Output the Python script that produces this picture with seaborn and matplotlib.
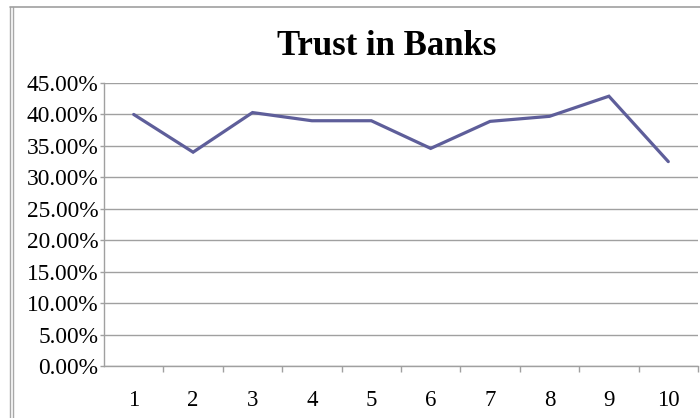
import matplotlib
matplotlib.use("Agg")
import matplotlib.pyplot as plt
from matplotlib.lines import Line2D
from matplotlib.ticker import FixedLocator, PercentFormatter
import seaborn as sns
import pandas as pd

# Survey periods and share of respondents who trust banks
periods = [1, 2, 3, 4, 5, 6, 7, 8, 9, 10]
trust = [0.400, 0.340, 0.403, 0.390, 0.390, 0.346, 0.389, 0.397, 0.429, 0.325]
y_ticks = [0.00, 0.05, 0.10, 0.15, 0.20, 0.25, 0.30, 0.35, 0.40, 0.45]
title = "Trust in Banks"

sns.set_style("white")
plt.rcParams["font.family"] = ["Liberation Serif", "DejaVu Serif"]
plt.rcParams["text.color"] = "black"

W, H = 700, 418
fig = plt.figure(figsize=(W / 100, H / 100), dpi=100)
fig.patch.set_facecolor("white")

left, right, top, bottom = 104, 698, 83, 366
ax = fig.add_axes([left / W, 1 - bottom / H, (right - left) / W, (bottom - top) / H])

df = pd.DataFrame({"period": periods, "trust": trust})
sns.lineplot(data=df, x="period", y="trust", ax=ax, color="#5e5e9a",
             linewidth=2.3, solid_joinstyle="miter")

grid_c = "#a0a0a0"
ax.set_xlim(0.5, 10.5)
ax.set_ylim(0, 0.45)
ax.set_yticks(y_ticks)
ax.yaxis.set_major_formatter(PercentFormatter(1.0, decimals=2))
ax.yaxis.grid(True, color=grid_c, linewidth=1.0)
ax.xaxis.grid(False)
ax.set_xticks(periods)
ax.xaxis.set_minor_locator(FixedLocator([p + 0.5 for p in periods]))
ax.tick_params(axis="x", which="major", length=0, pad=17, labelsize=16.5,
               labelcolor="black")
ax.tick_params(axis="x", which="minor", length=4, width=1, color=grid_c,
               direction="out", bottom=True)
ax.tick_params(axis="y", length=3, width=1, color=grid_c, pad=1, labelsize=16.8,
               left=True, labelcolor="black")
ax.set_xlabel("")
ax.set_ylabel("")
for s in ("top", "right"):
    ax.spines[s].set_visible(False)
for s in ("left", "bottom"):
    ax.spines[s].set_color(grid_c)
    ax.spines[s].set_linewidth(1.0)

fig.text(387 / W, 1 - 55 / H, title, ha="center", va="baseline",
         fontsize=25, fontweight="bold", color="black")

# chart frame: double line on the left, single line on top
for x in (10, 12.5):
    fig.add_artist(Line2D([x / W, x / W], [0, 1 - 7 / H], color="#a8a8a8",
                          linewidth=1.0, transform=fig.transFigure))
fig.add_artist(Line2D([10 / W, 1], [1 - 7 / H, 1 - 7 / H], color="#a0a0a0",
                      linewidth=1.2, transform=fig.transFigure))

fig.savefig("out.png", dpi=100)
